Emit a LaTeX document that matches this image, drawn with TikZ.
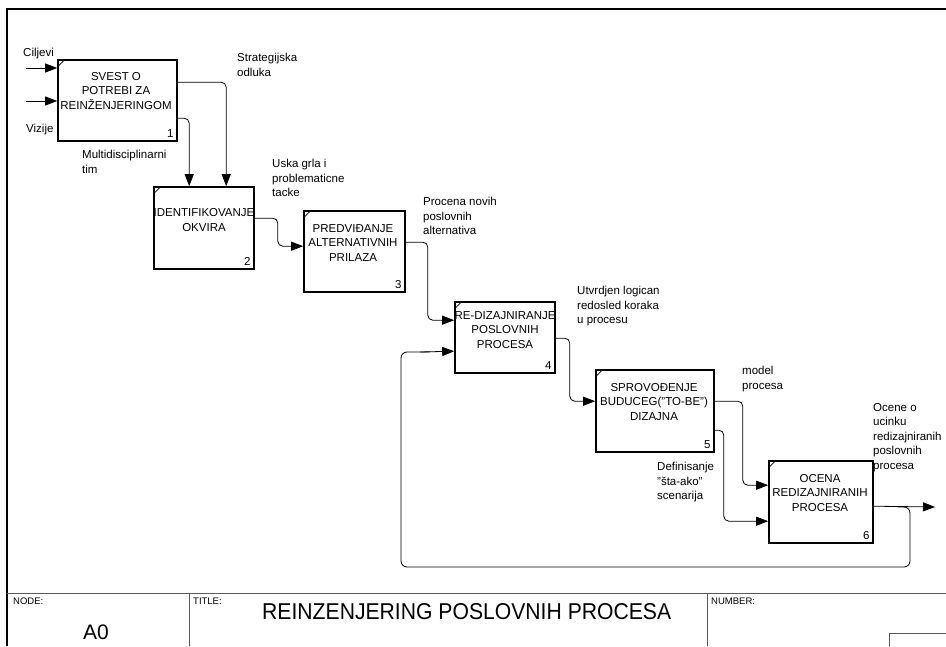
\documentclass[tikz,border=0pt]{standalone}
\usepackage{fontspec}
\setmainfont{Liberation Sans}
\usetikzlibrary{arrows.meta,calc}

\tikzset{
  procbox/.style={draw, line width=1.6pt, rectangle, inner sep=0pt},
  boxtext/.style={align=center, inner sep=0pt, font=\fontsize{11.5}{14.5}\selectfont},
  lbl/.style={align=left, anchor=north west, inner sep=0pt, font=\fontsize{11.5}{14.5}\selectfont},
  num/.style={anchor=south east, inner sep=0pt, font=\fontsize{11.5}{12}\selectfont},
  flow/.style={line width=0.8pt, rounded corners=5pt, -{Triangle[length=12pt,width=9pt]}},
  fback/.style={line width=0.8pt, rounded corners=6pt},
  tick/.style={line width=0.8pt},
  frame/.style={line width=1.3pt},
  rule/.style={line width=1pt, draw=black!65},
  small/.style={anchor=north west, inner sep=0pt, font=\fontsize{9.5}{10}\selectfont}
}

\begin{document}
\begin{tikzpicture}[x=1pt,y=-1pt]
\useasboundingbox (0,0) rectangle (946,646);

% outer frame and title block
\draw[frame] (7,646) -- (7,9) -- (946,9);
\draw[rule] (7,593) -- (946,593);
\draw[rule] (189,593) -- (189,646);
\draw[rule] (707,593) -- (707,646);
\draw[rule] (946,633) -- (889,633) -- (889,646);
\node[small] (nodelbl) at (13,598) {NODE:};
\node[small] (titlelbl) at (193,598) {TITLE:};
\node[small] (numlbl) at (711,598) {NUMBER:};
\node[inner sep=0pt, font=\fontsize{21}{21}\selectfont] (a0) at (96,632) {A0};
\node[anchor=north west, inner sep=0pt, font=\fontsize{22}{22}\selectfont] (title) at (262,603)
  {\resizebox{409pt}{16pt}{REINZENJERING POSLOVNIH PROCESA}};

% activity boxes
\node[procbox, minimum width=119pt, minimum height=81pt] (b1) at (117.5,100.5) {};
\node[procbox, minimum width=100pt, minimum height=82pt] (b2) at (204,228) {};
\node[procbox, minimum width=101pt, minimum height=81pt] (b3) at (354.5,251.5) {};
\node[procbox, minimum width=100pt, minimum height=71pt] (b4) at (505,337.5) {};
\node[procbox, minimum width=118pt, minimum height=82pt] (b5) at (655,411) {};
\node[procbox, minimum width=104pt, minimum height=82pt] (b6) at (821,502) {};

% corner ticks and numbers
\foreach \b/\n in {b1/1,b2/2,b3/3,b4/4,b5/5,b6/6}{
  \draw[tick] (\b.north west) ++(0,8) -- ++(8,-8);
  \node[num] at ([xshift=-4pt,yshift=4pt]\b.south east) {\n};
}

% box captions
\node[boxtext] (t1) at (116,91) {SVEST O\\POTREBI ZA\\REINŽENJERINGOM};
\node[boxtext] (t2) at (204,220) {IDENTIFIKOVANJE\\OKVIRA};
\node[boxtext] (t3) at (353,243) {PREDVIĐANJE\\ALTERNATIVNIH\\PRILAZA};
\node[boxtext] (t4) at (505,330) {RE-DIZAJNIRANJE\\POSLOVNIH\\PROCESA};
\node[boxtext] (t5) at (654,402) {SPROVOĐENJE\\BUDUCEG("TO-BE")\\DIZAJNA};
\node[boxtext] (t6) at (820,493) {OCENA\\REDIZAJNIRANIH\\PROCESA};

% inputs
\coordinate (cilj) at (26,68);
\coordinate (viz) at (26,101);
\draw[flow] (cilj) -- (cilj -| b1.west);
\draw[flow] (viz) -- (viz -| b1.west);

% connections between activities
\draw[flow] ([yshift=-23pt]b1.north east) -| ([xshift=73pt]b2.north west);
\draw[flow] ([yshift=-59pt]b1.north east) -| ([xshift=36pt]b2.north west);
\draw[flow] ([yshift=-32pt]b2.north east) -- ++(23,0) |- ([yshift=-36pt]b3.north west);
\draw[flow] ([yshift=-32pt]b3.north east) -- ++(22,0) |- ([yshift=-19pt]b4.north west);
\draw[flow] ([yshift=-37pt]b4.north east) -- ++(14,0) |- ([yshift=-32pt]b5.north west);
\draw[flow] ([yshift=-32pt]b5.north east) -- ++(28,0) |- ([yshift=-25pt]b6.north west);
\draw[flow] ([yshift=-61pt]b5.north east) -- ++(9,0) |- ([yshift=-61pt]b6.north west);

% output and feedback loop
\coordinate (out) at (935,507);
\draw[flow] ([yshift=-46pt]b6.north east) -- (out);
\coordinate (fb) at (898,507);
\draw[fback] (fb) -- (910,507) -- (910,567) -- (401,567) -- (401,352) -- (430,352);
\draw[flow] (420,352) -- ([yshift=-50pt]b4.north west);

% arrow labels
\node[lbl] (lcilj) at (23,48) {Ciljevi};
\node[lbl] (lviz) at (26,124) {Vizije};
\node[lbl] (lstrat) at (237,53) {Strategijska\\odluka};
\node[lbl] (lmulti) at (82,150) {Multidisciplinarni\\tim};
\node[lbl] (luska) at (272,159) {Uska grla i\\problematicne\\tacke};
\node[lbl] (lproc) at (423,197) {Procena novih\\poslovnih\\alternativa};
\node[lbl] (lutv) at (577,286) {Utvrdjen logican\\redosled koraka\\u procesu};
\node[lbl] (lmodel) at (742,366) {model\\procesa};
\node[lbl] (locene) at (873,403) {Ocene o\\ucinku\\redizajniranih\\poslovnih\\procesa};
\node[lbl] (ldef) at (657,462) {Definisanje\\"šta-ako"\\scenarija};
\end{tikzpicture}
\end{document}
